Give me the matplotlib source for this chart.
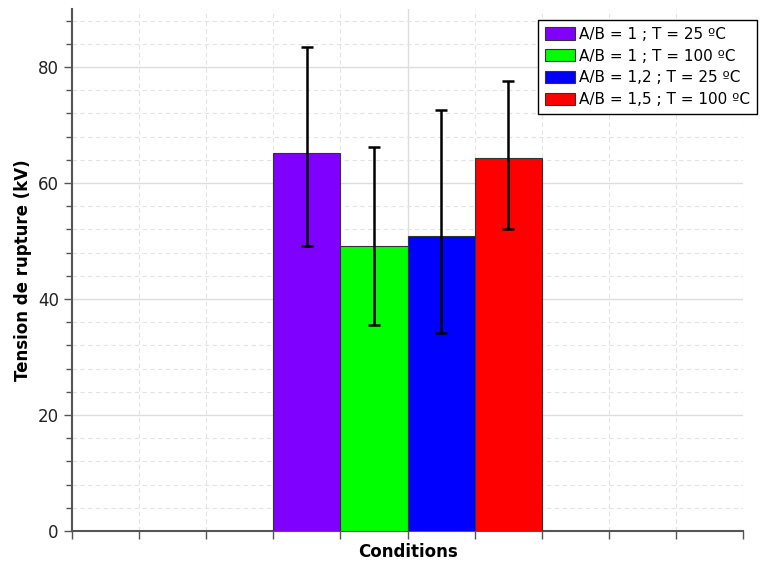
import matplotlib.pyplot as plt
from matplotlib.ticker import MultipleLocator, FixedLocator, NullFormatter
import numpy as np

# Data
labels = ['A/B = 1 ; T = 25 ºC', 'A/B = 1 ; T = 100 ºC',
          'A/B = 1,2 ; T = 25 ºC', 'A/B = 1,5 ; T = 100 ºC']
positions = [3.5, 4.5, 5.5, 6.5]
heights = [65.1, 49.2, 50.9, 64.3]
err_high = [83.5, 66.2, 72.6, 77.6]
err_low = [49.2, 35.5, 34.1, 52.0]
colors = ['#8000ff', '#00ff00', '#0000ff', '#ff0000']

fig = plt.figure(figsize=(7.63, 5.67), dpi=100)
ax = fig.add_axes([0.0944, 0.0635, 0.8794, 0.9205])

heights = np.array(heights)
yerr = [heights - np.array(err_low), np.array(err_high) - heights]

for x, h, c, lab in zip(positions, heights, colors, labels):
    ax.bar(x, h, width=1.0, color=c, edgecolor='#333333', linewidth=0.8,
           label=lab, zorder=3)
ax.errorbar(positions, heights, yerr=yerr, fmt='none', ecolor='black',
            elinewidth=1.8, capsize=4, capthick=1.8, zorder=4)

ax.set_xlim(0, 10)
ax.set_ylim(0, 90)

# y ticks: labelled every 20, minor every 4
ax.yaxis.set_major_locator(MultipleLocator(20))
ax.yaxis.set_minor_locator(MultipleLocator(4))
# x ticks: no labels, gridline solid at middle, dashed elsewhere
ax.xaxis.set_major_locator(FixedLocator([5]))
ax.xaxis.set_minor_locator(FixedLocator([0, 1, 2, 3, 4, 6, 7, 8, 9, 10]))
ax.xaxis.set_major_formatter(NullFormatter())

ax.grid(which='major', color='#dddddd', linewidth=1.0, linestyle='-', zorder=0)
ax.grid(which='minor', color='#e3e3e3', linewidth=0.8, linestyle=(0, (4, 3)), zorder=0)
ax.set_axisbelow(True)

for side in ['top', 'right']:
    ax.spines[side].set_visible(False)
for side in ['left', 'bottom']:
    ax.spines[side].set_color('#555555')
    ax.spines[side].set_linewidth(1.5)

ax.tick_params(axis='y', which='major', length=6, width=1, color='#555555',
               labelsize=12, labelcolor='#222222')
ax.tick_params(axis='y', which='minor', length=4, width=1, color='#555555')
ax.tick_params(axis='x', which='both', length=6, width=1, color='#555555', pad=0)

ax.set_ylabel('Tension de rupture (kV)', fontsize=12, fontweight='bold', labelpad=4)
ax.set_xlabel('Conditions', fontsize=12, fontweight='bold', labelpad=3)

leg = ax.legend(loc='upper left', bbox_to_anchor=(0.705, 0.965),
                bbox_transform=fig.transFigure, fontsize=11, frameon=True,
                fancybox=False, edgecolor='black', framealpha=1,
                handlelength=2.0, handleheight=0.85, handletextpad=0.25,
                labelspacing=0.45, borderpad=0.45, borderaxespad=0)
leg.get_frame().set_linewidth(1.0)

fig.savefig('out.png', dpi=100)
